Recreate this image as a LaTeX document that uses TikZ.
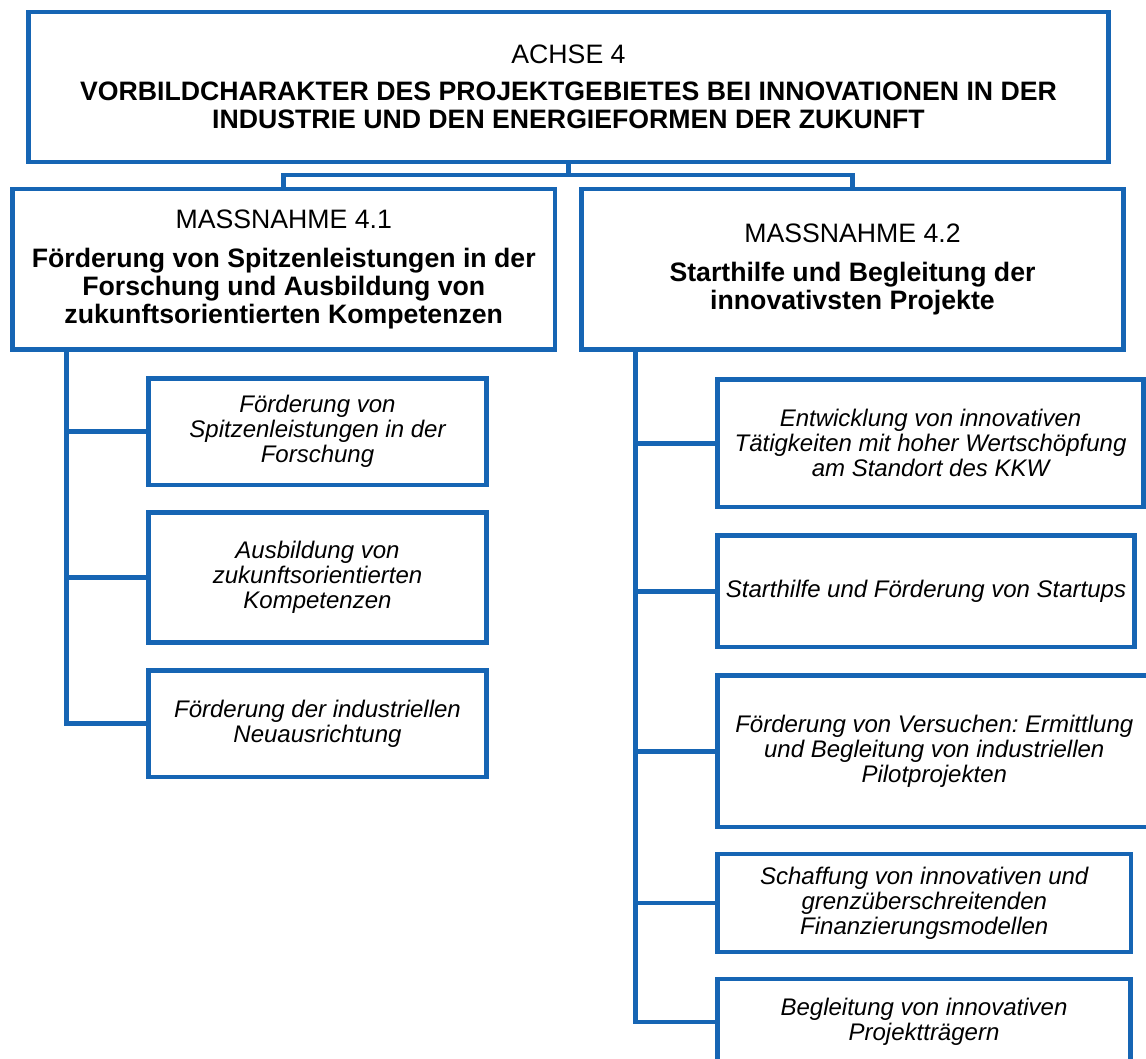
\documentclass[tikz,border=0pt]{standalone}
\usepackage{fontspec}
\setmainfont{Liberation Sans}
\definecolor{boxblue}{RGB}{22,101,180}
\frenchspacing
\begin{document}
\begin{tikzpicture}[x=0.75pt,y=-0.75pt,
  bx/.style 2 args={draw=boxblue, line width=3.6pt, inner sep=0pt, align=center,
     minimum width=#1*0.75pt, minimum height=#2*0.75pt},
  head/.style={font=\fontsize{20}{21}\selectfont},
  leaf/.style={font=\fontsize{18}{18.75}\selectfont\itshape},
  conn/.style={draw=boxblue, line width=3.6pt}]
\useasboundingbox (0,0) rectangle (1146,1059);
\clip (0,0) rectangle (1146,1059);
\fill[white] (0,0) rectangle (1146,1059);

\node[bx={1080}{150}, head] (top) at (568.5,87)
  {ACHSE 4\\[7pt]\textbf{VORBILDCHARAKTER DES PROJEKTGEBIETES BEI INNOVATIONEN IN DER}\\\textbf{INDUSTRIE UND DEN ENERGIEFORMEN DER ZUKUNFT}};

\node[bx={542.5}{160.5}, head] (m1) at (283.75,269.25)
  {MASSNAHME 4.1\\[8pt]\textbf{Förderung von Spitzenleistungen in der}\\\textbf{Forschung und Ausbildung von}\\\textbf{zukunftsorientierten Kompetenzen}};
\node[bx={542}{160.5}, head] (m2) at (852.5,269.25)
  {MASSNAHME 4.2\\[8pt]\textbf{Starthilfe und Begleitung der}\\\textbf{innovativsten Projekte}};

\node[bx={338}{106.5}, leaf] (c1) at (317.5,431.75)
  {Förderung von\\Spitzenleistungen in der\\Forschung};
\node[bx={338}{130}, leaf] (c2) at (317.5,577.5)
  {Ausbildung von\\zukunftsorientierten\\Kompetenzen};
\node[bx={338}{106.5}, leaf] (c3) at (317.5,723.75)
  {Förderung der industriellen\\Neuausrichtung};

\node[bx={426}{127.5}, leaf] (d1) at (930.5,443.25)
  {Entwicklung von innovativen\\Tätigkeiten mit hoher Wertschöpfung\\am Standort des KKW};
\node[bx={417}{111.5}, leaf] (d2) at (926,591.25)
  {Starthilfe und Förderung von Startups};
\node[bx={433.5}{151.5}, leaf] (d3) at (934.25,751.25)
  {Förderung von Versuchen: Ermittlung\\und Begleitung von industriellen\\Pilotprojekten};
\node[bx={413.5}{98}, leaf] (d4) at (924.25,903)
  {Schaffung von innovativen und\\grenzüberschreitenden\\Finanzierungsmodellen};
\node[bx={413}{86}, leaf] (d5) at (924,1022)
  {Begleitung von innovativen\\Projektträgern};

% top connectors
\coordinate (j) at (568.5,175);
\draw[conn] (top.south) -- (j);
\draw[conn] (m1.north) |- (j) -| (m2.north);

% left spine
\coordinate (ls) at (66.5,349.5);
\draw[conn] (ls) |- (c3.west);
\draw[conn] (ls |- c1.west) -- (c1.west);
\draw[conn] (ls |- c2.west) -- (c2.west);

% right spine
\coordinate (rs) at (635.5,349.5);
\draw[conn] (rs) |- (d5.west);
\draw[conn] (rs |- d1.west) -- (d1.west);
\draw[conn] (rs |- d2.west) -- (d2.west);
\draw[conn] (rs |- d3.west) -- (d3.west);
\draw[conn] (rs |- d4.west) -- (d4.west);
\end{tikzpicture}
\end{document}
